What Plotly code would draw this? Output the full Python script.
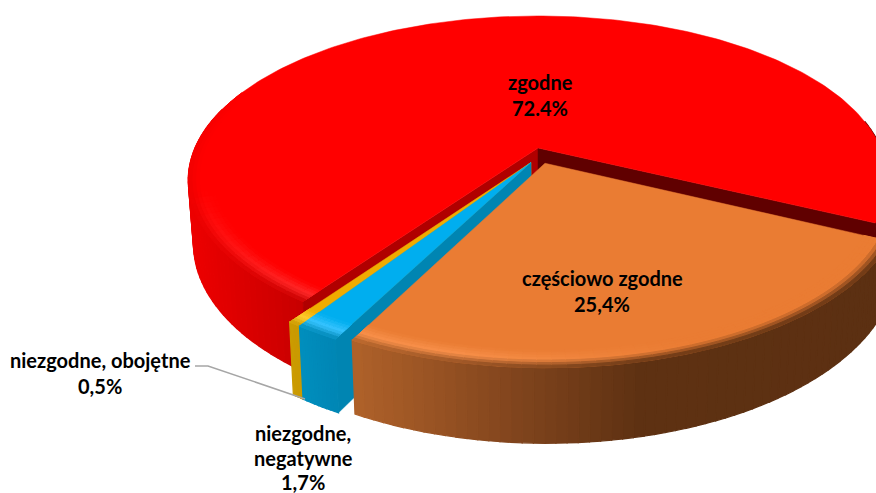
import math
import plotly.graph_objects as go

# ---- data (clockwise from the first slice) ----
CATEGORIES = ["częściowo zgodne", "niezgodne, negatywne", "niezgodne, obojętne", "zgodne"]
VALUES = [25.4, 1.7, 0.5, 72.4]
VALUE_LABELS = ["25,4%", "1,7%", "0,5%", "72.4%"]

# ---- style / view ----
START = 115.8
CX, CY, A, B, K, H, SHRINK = 538, 148, 343, 157.8, 0.195, 62, 0.015
OFFSETS = [(0.02, -0.095), (-0.02, -0.09), (-0.02, -0.09), (0, 0)]
FLAT = ["#ea7c33", "#00aeef", "#f0ac00", "#ff0000"]
HILITE = ["#f8904a", "#38c4ff", "#ffcc30", "#ff2a2a"]
RIM = [
    [(350, "#b0622a"), (500, "#85471e"), (640, "#5e3112"), (900, "#5c3012")],
    [(290, "#0090c0"), (345, "#0084b2")],
    [(280, "#cc9c00"), (310, "#c89800")],
    [(185, "#ee0000"), (300, "#c80000"), (860, "#600000")],
]
WALL = ["#5e3112", "#0085b2", "#c89800", None]
WALL_L, WALL_R = "#b00000", "#600000"

fig = go.Figure()


def proj(u, v, z=0.0):
    w = 1 + K * v
    s = 1 - SHRINK * z
    return CX + A * u / w * s, CY - B * v / w * s + H * z / w


def pt(i, ang, r=1.0, z=0.0):
    a = math.radians(ang)
    return proj(OFFSETS[i][0] + r * math.sin(a), OFFSETS[i][1] + r * math.cos(a), z)


def poly(points, color, lw=1.3):
    fig.add_trace(go.Scatter(
        x=[p[0] for p in points] + [points[0][0]],
        y=[p[1] for p in points] + [points[0][1]],
        mode="lines", fill="toself", fillcolor=color,
        line=dict(color=color, width=lw), hoverinfo="skip", showlegend=False))


def rgb(c):
    return [int(c[j:j + 2], 16) for j in (1, 3, 5)]


def mix(c1, c2, t):
    a, b = rgb(c1), rgb(c2)
    return "#%02x%02x%02x" % tuple(round(a[j] + (b[j] - a[j]) * t) for j in range(3))


def rim_color(i, x):
    st = RIM[i]
    if x <= st[0][0]:
        return st[0][1]
    for (x0, c0), (x1, c1) in zip(st, st[1:]):
        if x <= x1:
            return mix(c0, c1, (x - x0) / (x1 - x0))
    return st[-1][1]


def arange(a0, a1, step):
    n = max(1, int(math.ceil((a1 - a0) / step)))
    return [a0 + (a1 - a0) * j / n for j in range(n + 1)]


def rim(i, a0, a1, step=1.5):
    angs = arange(a0, a1, step)
    for p, q in zip(angs, angs[1:]):
        m = pt(i, (p + q) / 2)
        poly([pt(i, p), pt(i, q), pt(i, q, 1, 1), pt(i, p, 1, 1)], rim_color(i, m[0]))


def wall(i, ang, color):
    poly([pt(i, ang, 0), pt(i, ang), pt(i, ang, 1, 1), pt(i, ang, 0, 1)], color, 0.5)


def top(i, a0, a1):
    poly([pt(i, 0, 0)] + [pt(i, a) for a in arange(a0, a1, 1)], FLAT[i], 0.5)


def bevel(i, a0, a1, step=2.0, r0=0.93, fade_from=None, hl_end=None):
    bands = [r0 + (1 - r0) * j / 7 for j in range(8)]
    angs = arange(a0, a1, step)
    for p, q in zip(angs, angs[1:]):
        mid = (p + q) / 2
        m = pt(i, mid)
        rc = rim_color(i, m[0])
        strength = max(0.0, min(1.0, (700 - m[0]) / 250))
        if hl_end is not None:
            strength *= max(0.0, min(1.0, (hl_end - mid) / (hl_end - a0)))
        hl = mix(FLAT[i], HILITE[i], strength)
        if fade_from is not None and mid > fade_from:
            f = min(1.0, (mid - fade_from) / (a1 - fade_from))
            rc = mix(rc, FLAT[i], f)
            hl = mix(hl, FLAT[i], f)
        for j, (r1, r2) in enumerate(zip(bands, bands[1:])):
            t = (j + 0.5) / 7
            col = mix(FLAT[i], hl, t / 0.55) if t < 0.55 else mix(hl, rc, (t - 0.55) / 0.45)
            poly([pt(i, p, r1), pt(i, q, r1), pt(i, q, r2), pt(i, p, r2)], col, 1.0)


# angles from the values
total = sum(VALUES)
edges = [START]
for val in VALUES:
    edges.append(edges[-1] + 360 * val / total)

# red slice
a0, a1 = edges[3], edges[4]
rim(3, a0, 285)
rim(3, 440, a1)
wall(3, a0, WALL_L)
wall(3, a1, WALL_R)
top(3, a0, a1)
bevel(3, a0, 292, fade_from=250, hl_end=255)

# yellow
a0, a1 = edges[2], edges[3]
rim(2, a0, a1, 0.5)
wall(2, a0, WALL[2])
top(2, a0, a1)
bevel(2, a0, a1, 0.5)

# blue
a0, a1 = edges[1], edges[2]
wall(1, a0, WALL[1])
rim(1, a0, a1, 0.75)
top(1, a0, a1)
bevel(1, a0, a1, 0.75)

# orange
a0, a1 = edges[0], edges[1]
rim(0, a0, a1)
top(0, a0, a1)
bevel(0, a0, a1)

# leader line for the smallest slice
fig.add_trace(go.Scatter(x=[195, 208, 305], y=[366, 366, 399], mode="lines",
                         line=dict(color="#a6a6a6", width=1.5), hoverinfo="skip", showlegend=False))

FONT = dict(family="Lato", size=20, color="#000000")
LABELS = [
    (CATEGORIES[3], 540, 82), (VALUE_LABELS[3], 540, 108),
    (CATEGORIES[0], 602, 278), (VALUE_LABELS[0], 602, 304),
    ("niezgodne, obojętne", 100, 360), (VALUE_LABELS[2], 100, 386),
    ("niezgodne,", 303, 433), ("negatywne", 303, 458), (VALUE_LABELS[1], 303, 482),
]
for text, x, y in LABELS:
    fig.add_annotation(x=x, y=y, text="<b>%s</b>" % text, showarrow=False, font=FONT,
                       xanchor="center", yanchor="middle")

fig.update_layout(
    width=876, height=493, margin=dict(l=0, r=0, t=0, b=0),
    paper_bgcolor="white", plot_bgcolor="white", showlegend=False,
    xaxis=dict(range=[0, 876], visible=False, fixedrange=True),
    yaxis=dict(range=[493, 0], visible=False, fixedrange=True),
)
fig.write_html("out.html", config=dict(displayModeBar=False),
               post_script="document.body.style.margin='0';document.documentElement.style.overflow='hidden';")
